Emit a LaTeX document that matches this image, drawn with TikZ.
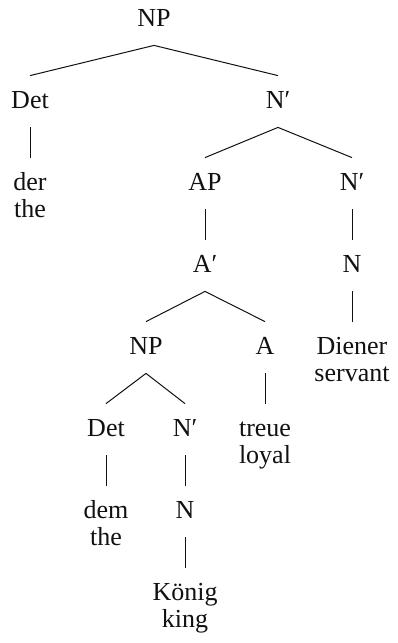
\documentclass[tikz,border=0pt]{standalone}
\usepackage{fontspec}
\setmainfont{Liberation Serif}
\usepackage{xcolor}
\definecolor{treeInk}{HTML}{111111}

\tikzset{
  cat/.style={anchor=base, inner sep=0pt, text height=16pt, text depth=9.5pt, text=treeInk},
  gloss/.style={anchor=base, inner sep=0pt, text=treeInk},
  branch/.style={draw=treeInk, line width=0.5pt}
}

\begin{document}
\begin{tikzpicture}[x=0.5pt, y=-0.5pt, font=\fontsize{13}{13.5}\selectfont]
  \useasboundingbox (0,0) rectangle (397,643);

  % categories
  \node[cat] (np0)   at (154,26)  {NP};
  \node[cat] (det1)  at (30,108)  {Det};
  \node[cat] (nb1)   at (278,108) {N′};
  \node[cat] (der)   at (30,190)  {der};
  \node[cat] (ap)    at (205,190) {AP};
  \node[cat] (nb2)   at (352,190) {N′};
  \node[cat] (ab)    at (205,272) {A′};
  \node[cat] (n3)    at (352,272) {N};
  \node[cat] (np4)   at (146,354) {NP};
  \node[cat] (a4)    at (265,354) {A};
  \node[cat] (diener) at (352,354) {Diener};
  \node[cat] (det5)  at (106,436) {Det};
  \node[cat] (nb5)   at (185,436) {N′};
  \node[cat] (treue) at (265,436) {treue};
  \node[cat] (dem)   at (106,518) {dem};
  \node[cat] (n6)    at (185,518) {N};
  \node[cat] (koenig) at (185,600) {König};

  % glosses
  \node[gloss] (der-gl)    at (30,217)  {the};
  \node[gloss] (diener-gl) at (352,381) {servant};
  \node[gloss] (treue-gl)  at (265,463) {loyal};
  \node[gloss] (dem-gl)    at (106,545) {the};
  \node[gloss] (koenig-gl) at (185,627) {king};

  % branches
  \foreach \p/\c in {np0/det1, np0/nb1, det1/der, nb1/ap, nb1/nb2,
                     ap/ab, nb2/n3, ab/np4, ab/a4, n3/diener,
                     np4/det5, np4/nb5, a4/treue, det5/dem, nb5/n6, n6/koenig}
    \draw[branch] (\p.south) -- (\c.north);
\end{tikzpicture}
\end{document}
